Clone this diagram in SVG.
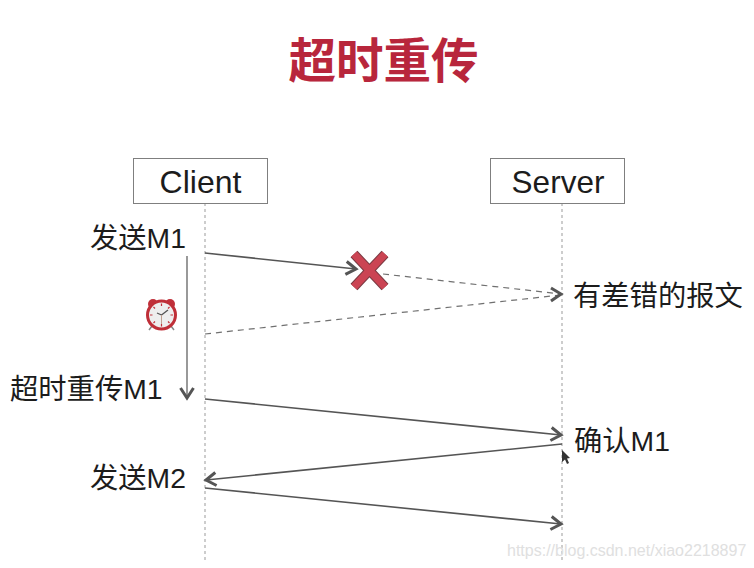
<svg xmlns="http://www.w3.org/2000/svg" width="754" height="568" viewBox="0 0 754 568">
<style>
text{font-family:"Liberation Sans","Noto Sans CJK SC",sans-serif;fill:#1c1c1c}
.l{font-size:28.300px}
.box{fill:#fff;stroke:#7f7f7f;stroke-width:1}
.life{stroke:#bdbdbd;stroke-width:1.5;stroke-dasharray:3 3;fill:none}
.msg{stroke:#555;stroke-width:1.6;fill:none;marker-end:url(#a)}
.dash{stroke:#707070;stroke-width:1.200;stroke-dasharray:6 5;fill:none}
</style>
<defs>
<marker id="a" markerUnits="userSpaceOnUse" markerWidth="20" markerHeight="20" refX="14" refY="10" orient="auto">
<path d="M4 3.500L14 10L4 16.500" fill="none" stroke="#555" stroke-width="3"/>
</marker>
</defs>
<rect width="754" height="568" fill="#fff"/>
<text id="title" x="383.500" y="78" text-anchor="middle" font-size="47.500" font-weight="700" style="fill:#b8263c">超时重传</text>
<g id="connectors">
<path class="life" d="M205 203V560"/>
<path class="life" d="M562 203V560"/>
<path class="msg" d="M205 253L356 269"/>
<path class="dash" d="M383 274L561 294"/>
<path class="dash" d="M205 334L561 295"/>
<path d="M551 288L561 294L551 301" fill="none" stroke="#555" stroke-width="3"/>
<path class="msg" style="stroke:#808080" d="M187 256V398"/>
<path class="msg" d="M205 399L561 435"/>
<path class="msg" d="M562 444L206 480"/>
<path class="msg" d="M205 488L561 524"/>
</g>
<g id="client"><rect class="box" x="133.500" y="158.500" width="134" height="45"/><text x="200.500" y="193" text-anchor="middle" font-size="32">Client</text></g>
<g id="server"><rect class="box" x="490.500" y="158.500" width="134" height="45"/><text x="558" y="193" text-anchor="middle" font-size="31.500">Server</text></g>
<g id="cross"><path d="M354 254L385 287M385 254L354 287" stroke="#7a3a42" stroke-width="9.500"/><path d="M354 254L385 287M385 254L354 287" stroke="#cb4453" stroke-width="7.500"/></g>
<g id="clock">
<circle cx="153" cy="304" r="5" fill="#c0303a"/><circle cx="170" cy="304" r="5" fill="#c0303a"/>
<path d="M152 326L149 330M171 326L174 330" stroke="#888" stroke-width="1.500"/>
<circle cx="161.500" cy="315" r="14" fill="#eee" stroke="#bf2f38" stroke-width="3"/>
<path d="M161.500 315L157 313M161.500 315L168 310" stroke="#555" stroke-width="1.300" fill="none"/>
<path d="M161.500 315V325" stroke="#c0a090" stroke-width="1"/>
<path d="M161.500 303.500V306M161.500 324V326.500M150 315H152.500M170.500 315H173M153.500 307L155 308.500M169.500 307L168 308.500M153.500 323L155 321.500M169.500 323L168 321.500" stroke="#c0303a" stroke-width="1.200"/>
</g>
<g id="labels">
<text class="l" x="90" y="248">发送M1</text>
<text class="l" x="10" y="399">超时重传M1</text>
<text class="l" x="90" y="488">发送M2</text>
<text class="l" x="573" y="306">有差错的报文</text>
<text class="l" x="574" y="451">确认M1</text>
</g>
<path id="cursor" d="M562 450V462L565 459.500L567 464L569 463L567 458.500L570 458Z" fill="#333"/>
<text id="watermark" x="507" y="556" font-size="16" style="fill:#e0e0e0">https://blog.csdn.net/xiao2218897</text>
</svg>
